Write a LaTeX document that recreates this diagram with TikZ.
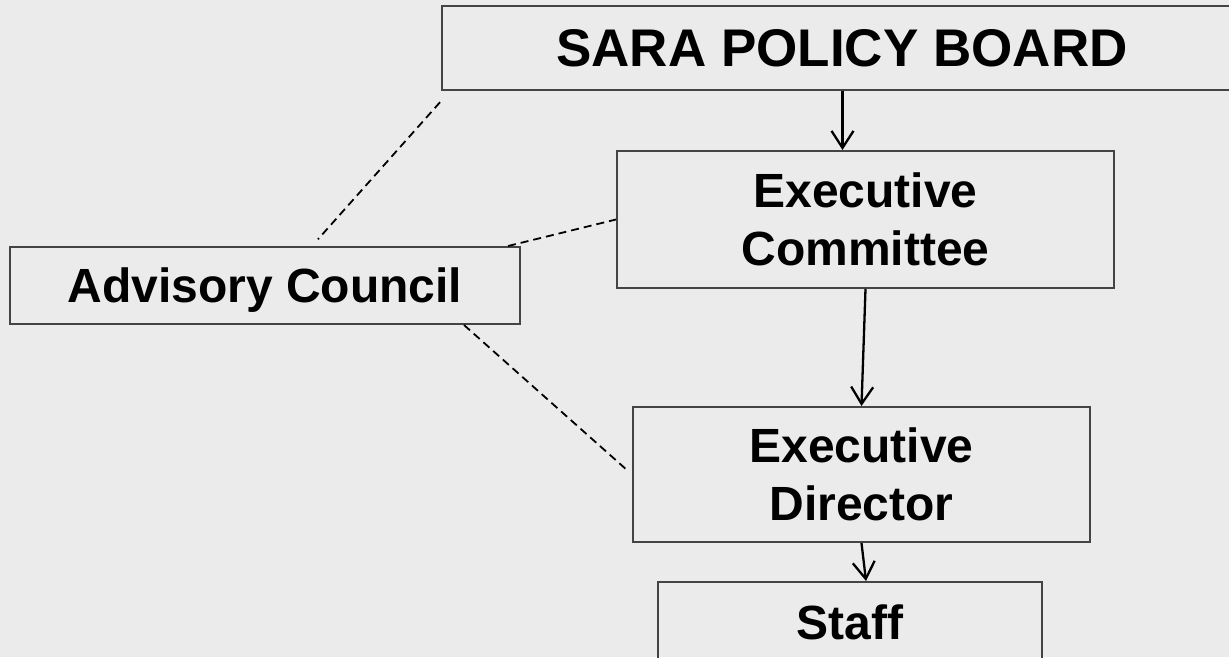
\documentclass[tikz,border=0pt]{standalone}
\usepackage{fontspec}
\setmainfont{Liberation Sans}
\usetikzlibrary{arrows.meta}
\definecolor{bg}{HTML}{EBEBEB}
\definecolor{edge}{HTML}{444444}
\begin{document}
\begin{tikzpicture}[x=1pt,y=-1pt,
    unit/.style={draw=edge,line width=2pt,align=center,inner sep=0pt,font=\bfseries\fontsize{48}{58}\selectfont},
    link/.style={draw,line width=2.3pt,-{Straight Barb[length=17pt,width=22pt]}},
    tie/.style={draw,line width=1.8pt,dash pattern=on 8pt off 5pt}]
  \useasboundingbox (0,0) rectangle (1229,657);
  \fill[bg] (0,0) rectangle (1229,657);
  \clip (0,0) rectangle (1229,657);
  \node[unit,minimum width=800,minimum height=84,font=\bfseries\fontsize{53}{60}\selectfont] (board) at (842,48) {SARA POLICY BOARD};
  \node[unit,minimum width=497,minimum height=137] (excom) at (865.5,219.5) {Executive\\Committee};
  \node[unit,minimum width=510,minimum height=77,text depth=0pt] (advisory) at (265,285.5) {Advisory Council};
  \node[unit,minimum width=457,minimum height=135] (exdir) at (861.5,474.5) {Executive\\Director};
  \node[unit,minimum width=384,minimum height=80] (staff) at (850,622) {Staff};
  % chain of command
  \draw[link] ([xshift=-23pt]excom.north |- board.south) -- ([xshift=-23pt]excom.north);
  \draw[link] (excom.south) -- (exdir.north);
  \draw[link] (exdir.south) -- ([xshift=16pt]staff.north);
  % advisory ties
  \draw[tie,shorten <=15pt,shorten >=9pt] ([xshift=9pt]board.south west) -- ([xshift=47pt]advisory.north);
  \draw[tie] ([xshift=-13pt]advisory.north east) -- (excom.west);
  \draw[tie,shorten >=5pt] ([xshift=-57pt]advisory.south east) -- (exdir.west);
\end{tikzpicture}
\end{document}
